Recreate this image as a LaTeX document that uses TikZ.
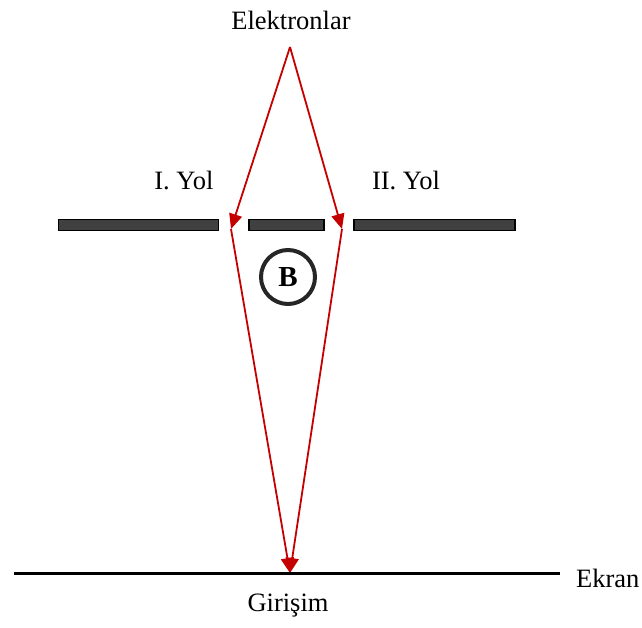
\documentclass[tikz,border=0pt]{standalone}
\usepackage{fontspec}
\setmainfont{Liberation Serif}
\usetikzlibrary{arrows.meta}

\definecolor{beamred}{RGB}{196,0,0}
\definecolor{plategray}{RGB}{64,64,64}

\tikzset{
  beam/.style={draw=beamred, line width=1.8pt, -{Triangle[length=15pt,width=13pt]}},
  plate/.style={rectangle, draw=black, fill=plategray, line width=1.5pt, minimum height=11pt, inner sep=0pt},
  lbl/.style={font=\fontsize{26.5}{31}\selectfont, inner sep=0pt}
}

\begin{document}
\begin{tikzpicture}[x=1pt, y=-1pt]
        \useasboundingbox (0,0) rectangle (642,628);

        % Draw nodes
        \coordinate (src) at (290,47);
        \coordinate (slitA) at (231,229);
        \coordinate (slitB) at (342,229);
        \coordinate (hit) at (290,573);
        \coordinate (ekranL) at (14,573);
        \coordinate (ekranR) at (560,573);

        \node[plate, minimum width=160pt] (plateA) at (138.5,225) {};
        \node[plate, minimum width=75pt] (plateB) at (286.5,225) {};
        \node[plate, minimum width=161pt] (plateC) at (434.5,225) {};

        \node[circle, draw=black!85, line width=4pt, minimum size=54pt, inner sep=0pt,
              font=\fontsize{29}{33}\selectfont\bfseries] (bfield) at (288,277) {B};

        % Draw connections
        \draw[beam] (src) -- (slitA);
        \draw[beam] (src) -- (slitB);
        \draw[beam] (slitA) -- (hit);
        \draw[beam] (slitB) -- (hit);
        \draw[line width=3pt] (ekranL) -- (ekranR);

        % Labels
        \node[lbl] (elek) at (291,20) {Elektronlar};
        \node[lbl] (yolA) at (184,180) {I. Yol};
        \node[lbl] (yolB) at (406,180) {II. Yol};
        \node[lbl, anchor=west] (ekran) at (576,578) {Ekran};
        \node[lbl] (girisim) at (288,606) {Girişim};
    \end{tikzpicture}
\end{document}
